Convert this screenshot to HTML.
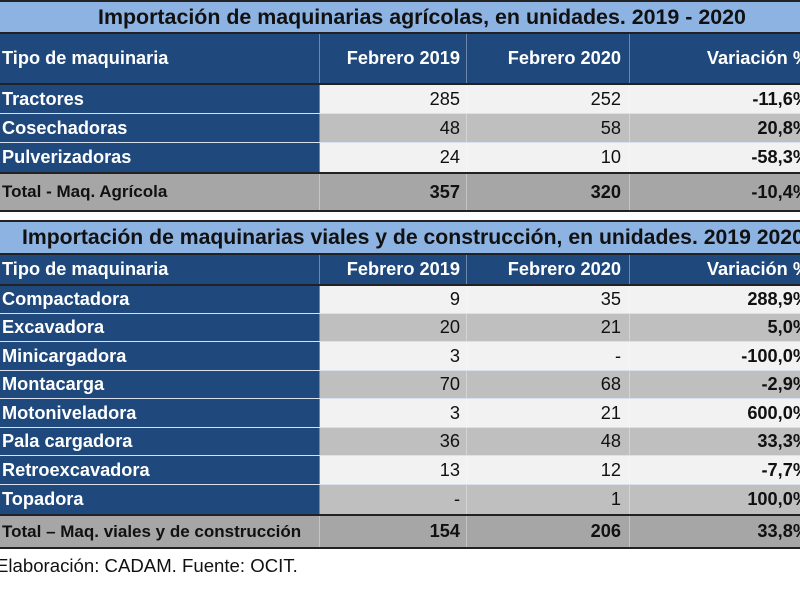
<!DOCTYPE html>
<html><head><meta charset="utf-8"><style>
html,body{margin:0;padding:0;width:800px;height:600px;overflow:hidden;background:#fff;font-family:"Liberation Sans",Arial,sans-serif;}
.t{position:absolute;left:0;width:800px;background:#8db3e2;border-top:2px solid #222;border-bottom:2px solid #222;box-sizing:border-box;font-weight:bold;font-size:21.4px;color:#111;white-space:nowrap;overflow:hidden;}
.r{position:absolute;left:0;width:820px;display:flex;box-sizing:border-box;font-size:18.2px;color:#111;}
.r div{box-sizing:border-box;white-space:nowrap;display:flex;align-items:center;justify-content:flex-end;border-right:1px solid rgba(255,255,255,0.35);}
.r div:nth-child(1){width:320px;justify-content:flex-start;padding-left:2px;background:#1f497d;color:#fff;font-weight:bold;}
.r div:nth-child(2){width:147px;padding-right:6px;}
.r div:nth-child(3){width:163px;padding-right:8px;}
.r div:nth-child(4){width:190px;padding-right:10px;font-weight:bold;}
.h div{background:#1f497d!important;color:#fff;font-weight:bold;}
.l div:not(:first-child){background:#f2f2f2;}
.g div:not(:first-child){background:#bfbfbf;}
.r.l,.r.g{border-bottom:1px solid #d9e1ee;}
.tot{border-top:2px solid #222;border-bottom:2px solid #222;}
.tot div{background:#a6a6a6!important;color:#111!important;font-weight:bold;}
.tot div:nth-child(1){font-size:17px;}
</style></head><body>
<div class="t" style="top:0;height:34px;line-height:30px;padding-left:98px;">Importación de maquinarias agrícolas, en unidades. 2019 - 2020</div>
<div class="r h" style="top:34px;height:51px;border-bottom:2px solid #222;"><div>Tipo de maquinaria</div><div>Febrero 2019</div><div>Febrero 2020</div><div>Variación %</div></div>
<div class="r l" style="top:85px;height:29px;"><div>Tractores</div><div>285</div><div>252</div><div>-11,6%</div></div>
<div class="r g" style="top:114px;height:29px;"><div>Cosechadoras</div><div>48</div><div>58</div><div>20,8%</div></div>
<div class="r l" style="top:143px;height:29px;border-bottom:none;"><div>Pulverizadoras</div><div>24</div><div>10</div><div>-58,3%</div></div>
<div class="r tot" style="top:172px;height:40px;"><div>Total - Maq. Agrícola</div><div>357</div><div>320</div><div>-10,4%</div></div>

<div class="t" style="top:220px;height:35px;line-height:31px;padding-left:22px;font-size:21.2px;">Importación de maquinarias viales y de construcción, en unidades. 2019 2020</div>
<div class="r h" style="top:255px;height:31px;border-bottom:2px solid #222;"><div>Tipo de maquinaria</div><div>Febrero 2019</div><div>Febrero 2020</div><div>Variación %</div></div>
<div class="r l" style="top:286px;height:28px;"><div>Compactadora</div><div>9</div><div>35</div><div>288,9%</div></div>
<div class="r g" style="top:314px;height:28px;"><div>Excavadora</div><div>20</div><div>21</div><div>5,0%</div></div>
<div class="r l" style="top:342px;height:29px;"><div>Minicargadora</div><div>3</div><div>-</div><div>-100,0%</div></div>
<div class="r g" style="top:371px;height:28px;"><div>Montacarga</div><div>70</div><div>68</div><div>-2,9%</div></div>
<div class="r l" style="top:399px;height:29px;"><div>Motoniveladora</div><div>3</div><div>21</div><div>600,0%</div></div>
<div class="r g" style="top:428px;height:28px;"><div>Pala cargadora</div><div>36</div><div>48</div><div>33,3%</div></div>
<div class="r l" style="top:456px;height:29px;"><div>Retroexcavadora</div><div>13</div><div>12</div><div>-7,7%</div></div>
<div class="r g" style="top:485px;height:29px;border-bottom:none;"><div>Topadora</div><div>-</div><div>1</div><div>100,0%</div></div>
<div class="r tot" style="top:514px;height:35px;"><div>Total – Maq. viales y de construcción</div><div>154</div><div>206</div><div>33,8%</div></div>
<div style="position:absolute;left:-4px;top:555px;font-size:18.6px;color:#111;white-space:nowrap;">Elaboración: CADAM. Fuente: OCIT.</div>
</body></html>
